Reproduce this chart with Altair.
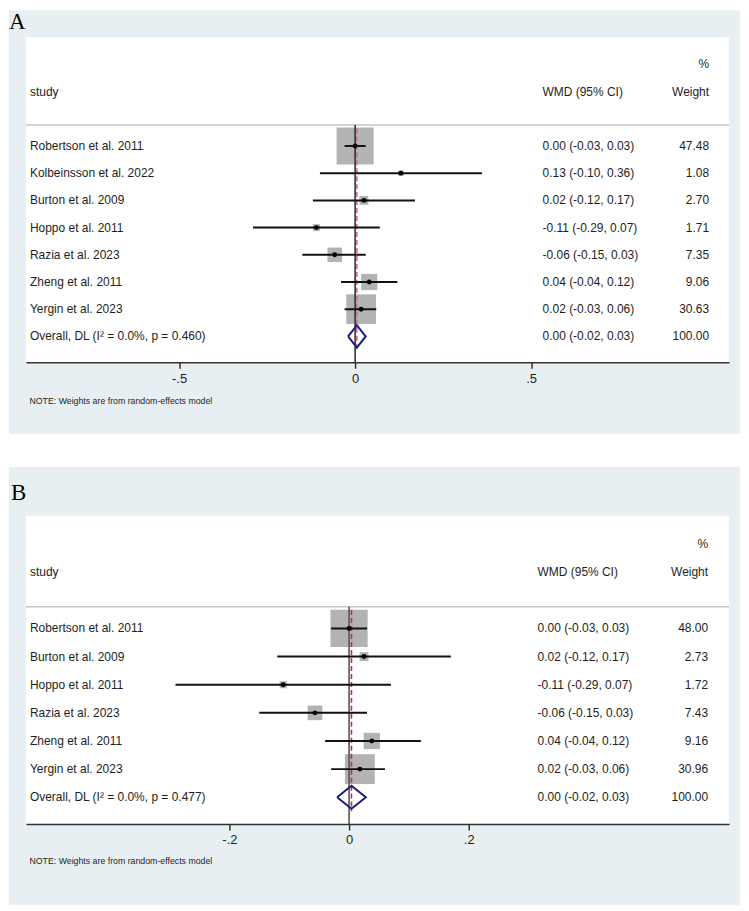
import altair as alt
import pandas as pd

# ---------------- Panel A data ----------------
studies_a = ["Robertson et al. 2011", "Kolbeinsson et al. 2022", "Burton et al. 2009",
             "Hoppo et al. 2011", "Razia et al. 2023", "Zheng et al. 2011", "Yergin et al. 2023"]
est_a = [0.000, 0.130, 0.025, -0.110, -0.058, 0.040, 0.017]
lo_a = [-0.03, -0.10, -0.12, -0.29, -0.15, -0.04, -0.03]
hi_a = [0.03, 0.36, 0.17, 0.07, 0.03, 0.12, 0.06]
weight_a = [47.48, 1.08, 2.70, 1.71, 7.35, 9.06, 30.63]
ci_text_a = ["0.00 (-0.03, 0.03)", "0.13 (-0.10, 0.36)", "0.02 (-0.12, 0.17)",
             "-0.11 (-0.29, 0.07)", "-0.06 (-0.15, 0.03)", "0.04 (-0.04, 0.12)",
             "0.02 (-0.03, 0.06)"]
overall_label_a = "Overall, DL (I\u00b2 = 0.0%, p = 0.460)"
overall_a = [0.005, -0.02, 0.03]          # estimate, lower, upper
overall_text_a = "0.00 (-0.02, 0.03)"
ticks_a = [-0.5, 0, 0.5]

# ---------------- Panel B data ----------------
studies_b = ["Robertson et al. 2011", "Burton et al. 2009", "Hoppo et al. 2011",
             "Razia et al. 2023", "Zheng et al. 2011", "Yergin et al. 2023"]
est_b = [0.000, 0.025, -0.110, -0.057, 0.038, 0.018]
lo_b = [-0.03, -0.12, -0.29, -0.15, -0.04, -0.03]
hi_b = [0.03, 0.17, 0.07, 0.03, 0.12, 0.06]
weight_b = [48.00, 2.73, 1.72, 7.43, 9.16, 30.96]
ci_text_b = ["0.00 (-0.03, 0.03)", "0.02 (-0.12, 0.17)", "-0.11 (-0.29, 0.07)",
             "-0.06 (-0.15, 0.03)", "0.04 (-0.04, 0.12)", "0.02 (-0.03, 0.06)"]
overall_label_b = "Overall, DL (I\u00b2 = 0.0%, p = 0.477)"
overall_b = [0.004, -0.02, 0.028]
overall_text_b = "0.00 (-0.02, 0.03)"
ticks_b = [-0.2, 0, 0.2]

note_text = "NOTE: Weights are from random-effects model"
header_texts = ["study", "WMD (95% CI)", "%", "Weight"]

BG = "#e8eff2"
FONT = "Liberation Sans"
TXT = "#1e1e1e"


def panel(letter, studies, est, lo, hi, weights, ci_text, ov_label, overall, ov_text,
          ticks, xdom, width, height, size_max, cfg):
    n = len(studies)
    ymax = n + 1 + 0.95
    df = pd.DataFrame(dict(row=list(range(1, n + 1)), study=studies, est=est, lo=lo, hi=hi,
                           w=weights, ci=ci_text, wt=[f"{w:.2f}" for w in weights]))
    ov_est, ov_lo, ov_hi = overall
    lab = pd.concat([df[["row", "study", "ci", "wt"]],
                     pd.DataFrame(dict(row=[n + 1], study=[ov_label], ci=[ov_text],
                                       wt=[f"{100:.2f}"]))], ignore_index=True)
    r = n + 1
    h = 0.41
    dia = pd.DataFrame(dict(x=[ov_lo, ov_est, ov_hi, ov_est, ov_lo],
                            y=[r, r - h, r, r + h, r], k=[0, 1, 2, 3, 4]))
    one = pd.DataFrame(dict(a=[0]))

    xscale = alt.Scale(domain=xdom, nice=False, zero=False)
    yscale = alt.Scale(domain=[-3, ymax], nice=False, zero=False, reverse=True)
    axis = alt.Axis(
        values=ticks,
        labelExpr="(datum.value < 0 ? '-' : '') + replace(toString(abs(datum.value)), '0.', '.')",
        grid=False, domainColor="#333333", domainWidth=1.5, tickColor="#333333",
        tickWidth=1.5, tickSize=6, labelFont=FONT, labelFontSize=13, labelColor=TXT,
        labelPadding=4, labelFlush=False, labelOverlap=False, zindex=1,
        titleFont=FONT, titleFontSize=8.8, titleFontWeight="normal", titleColor=TXT,
        titleAnchor="start", titleAlign="left", titleX=3, titleY=cfg["note_y"],
        titleBaseline="middle")

    def X(field=None, datum=None):
        if datum is not None:
            return alt.X(datum=datum, type="quantitative", scale=xscale, axis=axis, title=note_text)
        return alt.X(field, type="quantitative", scale=xscale, axis=axis, title=note_text)

    def Y(field=None, datum=None):
        if datum is not None:
            return alt.Y(datum=datum, type="quantitative", scale=yscale, axis=None)
        return alt.Y(field, type="quantitative", scale=yscale, axis=None)

    bg = alt.Chart(one).mark_rect(color=BG).encode(
        x=alt.value(-17), x2=alt.value(716),
        y=alt.value(cfg["bg_top"]), y2=alt.value(cfg["bg_bottom"]))
    plot_bg = alt.Chart(one).mark_rect(color="white").encode(
        x=alt.value(0), x2=alt.value(width), y=alt.value(0), y2=alt.value(height))
    letter_mark = alt.Chart(one).mark_text(
        font="Liberation Serif", fontSize=23, align="left", baseline="alphabetic",
        color="black").encode(x=alt.value(cfg["letter_x"]), y=alt.value(cfg["letter_y"]),
                              text=alt.value(letter))
    header_line = alt.Chart(one).mark_rule(color="#c4c4c4", strokeWidth=1.5).encode(
        x=alt.value(0), x2=alt.value(width), y=Y(datum=0.23))
    squares = alt.Chart(df).mark_square(color="#b3b3b3", opacity=1).encode(
        x=X("est"), y=Y("row"),
        size=alt.Size("w:Q", scale=alt.Scale(domain=[0, 100], range=[0, size_max]), legend=None))
    zero = alt.Chart(one).mark_rule(color=cfg["zero_color"], strokeWidth=1.6).encode(
        x=X(datum=0), y=Y(datum=0.23), y2=alt.Y2(datum=ymax))
    dashed = alt.Chart(one).mark_rule(color=cfg["dash_color"], strokeWidth=1.6,
                                      strokeDash=[5, 3]).encode(
        x=X(datum=ov_est), y=Y(datum=0.35), y2=alt.Y2(datum=n + 1.5))
    ci = alt.Chart(df).mark_rule(color="#111111", strokeWidth=2).encode(
        x=X("lo"), x2=alt.X2("hi"), y=Y("row"))
    dots = alt.Chart(df).mark_circle(color="black", size=24, opacity=1).encode(
        x=X("est"), y=Y("row"))
    diamond = alt.Chart(dia).mark_line(color="#1c1c80", strokeWidth=2, strokeJoin="miter").encode(
        x=X("x"), y=Y("y"), order=alt.Order("k:Q"))

    tx = dict(font=FONT, fontSize=12, color=TXT, baseline="middle")
    t_study = alt.Chart(lab).mark_text(align="left", **tx).encode(
        x=alt.value(4), y=Y("row"), text="study:N")
    t_ci = alt.Chart(lab).mark_text(align="left", **tx).encode(
        x=alt.value(cfg["wmd_x"]), y=Y("row"), text="ci:N")
    t_wt = alt.Chart(lab).mark_text(align="right", **tx).encode(
        x=alt.value(cfg["wt_x"]), y=Y("row"), text="wt:N")
    hdr = pd.DataFrame(dict(row=[-1, -1, -2, -1], text=header_texts,
                            xpos=[4, cfg["wmd_x"], cfg["wt_x"], cfg["wt_x"]],
                            al=["l", "l", "r", "r"]))
    h_left = alt.Chart(hdr[hdr.al == "l"]).mark_text(align="left", **tx).encode(
        x=alt.X("xpos:Q", scale=None), y=Y("row"), text="text:N")
    h_right = alt.Chart(hdr[hdr.al == "r"]).mark_text(align="right", **tx).encode(
        x=alt.X("xpos:Q", scale=None), y=Y("row"), text="text:N")

    return alt.layer(bg, plot_bg, letter_mark, header_line, squares, zero, dashed, ci, dots,
                     diamond, t_study, t_ci, t_wt, h_left, h_right).properties(
        width=width, height=height)


panel_a = panel("A", studies_a, est_a, lo_a, hi_a, weight_a, ci_text_a, overall_label_a,
                overall_a, overall_text_a, ticks_a, [-0.935, 1.062], 705, 326, 2900,
                dict(bg_top=-27, bg_bottom=398, note_y=38, wmd_x=518, wt_x=685,
                     letter_x=-17, letter_y=-8, dash_color="#c87488", zero_color="#333333"))
panel_b = panel("B", studies_b, est_b, lo_b, hi_b, weight_b, ci_text_b, overall_label_b,
                overall_b, overall_text_b, ticks_b, [-0.54, 0.635], 705, 309, 1875,
                dict(bg_top=-49, bg_bottom=390, note_y=37, wmd_x=513, wt_x=684,
                     letter_x=-15, letter_y=-16, dash_color="#a83a44", zero_color="#555555"))

chart = alt.vconcat(panel_a, panel_b, spacing=31).properties(
    padding=0, background="white").configure_view(stroke="transparent")

chart.save("out.html", embed_options={"renderer": "svg", "actions": False})
